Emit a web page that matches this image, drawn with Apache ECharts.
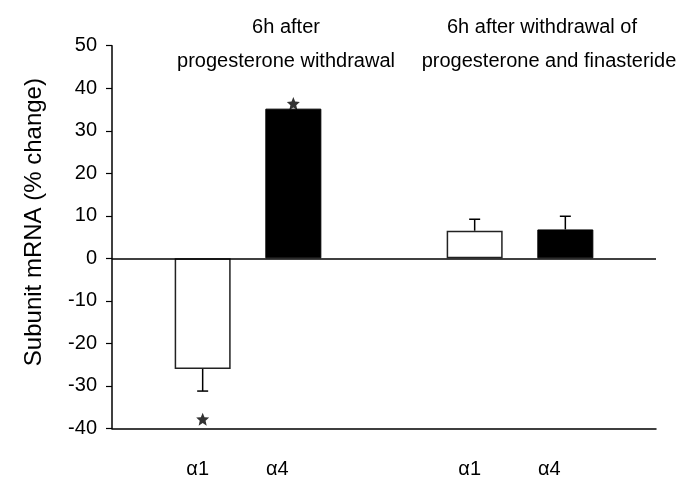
<!DOCTYPE html>
<html>
<head>
<meta charset="utf-8">
<script src="https://cdn.jsdelivr.net/npm/echarts@6/dist/echarts.min.js"></script>
<style>html,body{margin:0;padding:0;background:#fff;}#c{width:684px;height:481px;}</style>
</head>
<body>
<div id="c"></div>
<script>
// categories along the x axis (empty slots pad the groups)
const categories = ['', 'α1', 'α4', '', 'α1', 'α4', ''];
// % change in subunit mRNA
const alpha1Values = [null, -26.0, null, null, 6.5, null, null];
const alpha4Values = [null, null, 35.2, null, null, 6.8, null];
// error bar extents (one-sided, away from zero)
const alpha1Errors = [null, 5.2, null, null, 2.7, null, null];
const alpha4Errors = [null, null, 0, null, null, 3.1, null];
// significance markers
const starValues = [null, -37.8, 36.4, null, null, null, null];
// y axis
const yMin = -40, yMax = 50, yStep = 10;
const yTitle = 'Subunit mRNA (% change)';
const groupTitles = [
  ['6h after', 'progesterone withdrawal'],
  ['6h after withdrawal of', 'progesterone and finasteride']
];

const FONT = 'Liberation Sans, Arial, sans-serif';
const chart = echarts.init(document.getElementById('c'), null, {renderer: 'canvas'});

function errorData(vals, errs) {
  const out = [];
  for (let i = 0; i < vals.length; i++) {
    if (vals[i] != null && errs[i]) out.push([i, vals[i], vals[i] + Math.sign(vals[i]) * errs[i]]);
  }
  return out;
}
const errData = errorData(alpha1Values, alpha1Errors).concat(errorData(alpha4Values, alpha4Errors));
const starData = [];
starValues.forEach((v, i) => { if (v != null) starData.push([i, v]); });

const starPath = 'path://M0,-1 L0.265,-0.364 L0.951,-0.309 L0.428,0.139 L0.588,0.809 L0,0.45 L-0.588,0.809 L-0.428,0.139 L-0.951,-0.309 L-0.265,-0.364 Z';
const titleStyle = {fontFamily: FONT, fontSize: 20, fontWeight: 'normal', color: '#000'};

chart.setOption({
  animation: false,
  backgroundColor: '#fff',
  title: [
    {text: groupTitles[0][0], left: 281, top: 12, textAlign: 'center', textStyle: titleStyle},
    {text: groupTitles[0][1], left: 281, top: 46, textAlign: 'center', textStyle: titleStyle},
    {text: groupTitles[1][0], left: 537, top: 12, textAlign: 'center', textStyle: titleStyle},
    {text: groupTitles[1][1], left: 544, top: 46, textAlign: 'center', textStyle: titleStyle}
  ],
  grid: {left: 112, right: 28, top: 45.7, bottom: 52.5, containLabel: false, outerBoundsMode: 'none'},
  xAxis: {
    type: 'category',
    data: categories,
    boundaryGap: false,
    axisLine: {show: true, onZero: false, lineStyle: {color: '#000', width: 1.5}},
    axisTick: {show: false},
    splitLine: {show: false},
    axisLabel: {
      interval: 0,
      margin: 31,
      color: '#000',
      fontFamily: FONT,
      fontSize: 20,
      formatter: v => v === 'α1' ? '{a|' + v + '}' : (v === 'α4' ? '{b|' + v + '}' : ''),
      rich: {
        a: {fontFamily: FONT, fontSize: 20, color: '#000', padding: [0, 10, 0, 0]},
        b: {fontFamily: FONT, fontSize: 20, color: '#000', padding: [0, 32, 0, 0]}
      }
    }
  },
  yAxis: {
    type: 'value',
    min: yMin, max: yMax, interval: yStep,
    name: yTitle,
    nameLocation: 'middle',
    nameGap: 66,
    nameRotate: 90,
    nameTextStyle: {fontFamily: FONT, fontSize: 24, color: '#000', padding: [0, 0, 0, 30]},
    axisLine: {show: true, onZero: false, lineStyle: {color: '#000', width: 1.5}},
    axisTick: {show: true, inside: false, length: 6, lineStyle: {color: '#000', width: 1.2}},
    splitLine: {show: false},
    axisLabel: {margin: 15, color: '#000', fontFamily: FONT, fontSize: 20}
  },
  series: [
    {
      name: 'α1', type: 'bar', data: alpha1Values, barWidth: 56, barGap: '-100%',
      itemStyle: {color: '#fff', borderColor: '#222', borderWidth: 1.5},
      markLine: {
        silent: true, symbol: 'none', label: {show: false},
        lineStyle: {color: '#000', width: 1.5, type: 'solid'},
        data: [{yAxis: 0}]
      }
    },
    {
      name: 'α4', type: 'bar', data: alpha4Values, barWidth: 56, barGap: '-100%',
      itemStyle: {color: '#000', borderColor: '#000', borderWidth: 1}
    },
    {
      type: 'custom',
      data: errData,
      z: 5,
      renderItem: function (params, api) {
        const x = api.value(0);
        const p0 = api.coord([x, api.value(1)]);
        const p1 = api.coord([x, api.value(2)]);
        const hw = 5.5;
        const st = {stroke: '#000', lineWidth: 1.5};
        return {type: 'group', children: [
          {type: 'line', shape: {x1: p0[0], y1: p0[1], x2: p1[0], y2: p1[1]}, style: st},
          {type: 'line', shape: {x1: p1[0] - hw, y1: p1[1], x2: p1[0] + hw, y2: p1[1]}, style: st}
        ]};
      }
    },
    {
      type: 'scatter',
      data: starData,
      symbol: starPath,
      symbolSize: [13, 13],
      itemStyle: {color: '#000'},
      z: 6
    }
  ]
});
</script>
</body>
</html>
